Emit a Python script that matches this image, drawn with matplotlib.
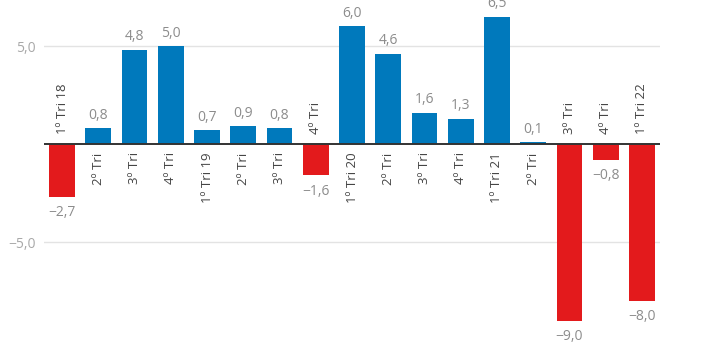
import numpy as np
import matplotlib.pyplot as plt

categorias = ['1º Tri 18', '2º Tri', '3º Tri', '4º Tri',
              '1º Tri 19', '2º Tri', '3º Tri', '4º Tri',
              '1º Tri 20', '2º Tri', '3º Tri', '4º Tri',
              '1º Tri 21', '2º Tri', '3º Tri', '4º Tri',
              '1º Tri 22']
valores = [-2.7, 0.8, 4.8, 5.0, 0.7, 0.9, 0.8, -1.6, 6.0, 4.6, 1.6, 1.3,
           6.5, 0.1, -9.0, -0.8, -8.0]
ticks_y = [-5.0, 5.0]

plt.rcParams['font.family'] = ['Open Sans', 'DejaVu Sans']

azul = '#0079bc'
vermelho = '#e31a1c'


def fmt(v):
    s = '{:.1f}'.format(abs(v)).replace('.', ',')
    return ('\u2212' + s) if v < 0 else s


fig = plt.figure(figsize=(7.24, 3.5), dpi=100)
ax = fig.add_axes([44 / 724, 0, (660 - 44) / 724, 1])

x = np.arange(len(valores))
cores = [azul if v >= 0 else vermelho for v in valores]
ax.bar(x, valores, width=0.71, color=cores, zorder=2)

ax.set_xlim(-0.5, len(valores) - 0.5)
ax.set_ylim(-10.5, 7.35)

for t in ticks_y:
    ax.axhline(t, color='#e3e3e3', lw=1, zorder=0)
ax.axhline(0, color='#333333', lw=1.4, zorder=3)

ax.set_yticks(ticks_y)
ax.set_yticklabels([fmt(t) for t in ticks_y], color='#a8a8a8', fontsize=10)
ax.tick_params(axis='y', length=0, pad=6)
ax.set_xticks([])
for s in ax.spines.values():
    s.set_visible(False)

for xi, v, c in zip(x, valores, categorias):
    if v >= 0:
        ax.annotate(fmt(v), (xi, v), xytext=(0, 4), textcoords='offset points',
                    ha='center', va='bottom', color='#8c8c8c', fontsize=10)
        ax.annotate(c, (xi, 0), xytext=(0, -6), textcoords='offset points',
                    ha='center', va='top', rotation=90, color='#444444',
                    fontsize=9.5)
    else:
        ax.annotate(fmt(v), (xi, v), xytext=(0, -6), textcoords='offset points',
                    ha='center', va='top', color='#8c8c8c', fontsize=10)
        ax.annotate(c, (xi, 0), xytext=(0, 7), textcoords='offset points',
                    ha='center', va='bottom', rotation=90, color='#444444',
                    fontsize=9.5)

fig.savefig('out.png', dpi=100)
